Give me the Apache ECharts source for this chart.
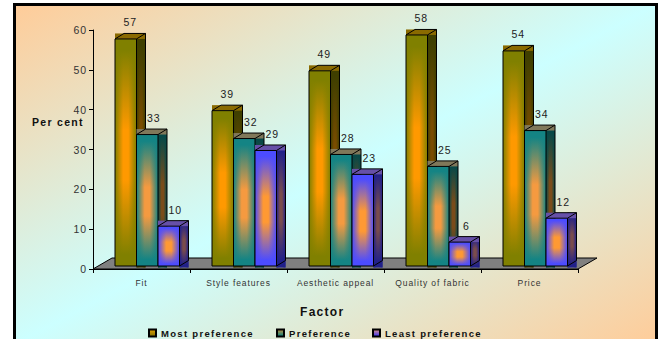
<!DOCTYPE html>
<html>
<head>
<meta charset="utf-8">
<style>
  html, body { margin: 0; padding: 0; background: #fff; }
  #chart { position: absolute; left: 0; top: 0; width: 659px; height: 339px; }
  /* Wide tracking on all chart lettering */
  #chart text { letter-spacing: 0.9px; }
  #chart text[style*="bold"] { letter-spacing: 1.3px; }
  #chart text[style*="bold 9.5px"] { letter-spacing: 1.45px; }
</style>
<script src="https://cdn.jsdelivr.net/npm/echarts@6/dist/echarts.min.js"></script>
</head>
<body>
<div id="chart"></div>
<script>
const categories = ['Fit', 'Style features', 'Aesthetic appeal', 'Quality of fabric', 'Price'];
const mostPreference = [57, 39, 49, 58, 54];
const preference = [33, 32, 28, 25, 34];
const leastPreference = [10, 29, 23, 6, 12];
const seriesNames = ['Most preference', 'Preference', 'Least preference'];
const yTicks = { min: 0, max: 60, interval: 10 };

const BAR_W = 21.5, DEPTH_X = 9, DEPTH_Y = 5.5, BASE_LIFT = 3, GROUP_SHIFT = -26.5;
const FONT = '"Liberation Sans", Arial, sans-serif';

const palettes = [
  { edge: '#808000', mid: '#ff9900', sideEdge: '#3f3f00', sideMid: '#7a4c00', top: '#8a6a00', legend: ['#e0a000', '#807000'], labelShift: 0 },
  { edge: '#148484', mid: '#f59a40', sideEdge: '#064848', sideMid: '#7a4c1a', top: '#80785a', legend: ['#c09040', '#008080'], labelShift: 2 },
  { edge: '#4c4cff', mid: '#ff9933', sideEdge: '#20208a', sideMid: '#7a4c4c', top: '#6650a8', legend: ['#e09080', '#3333ff'], labelShift: 2 }
];

const { LinearGradient } = echarts.graphic;

function vGrad(edge, mid) {
  return new LinearGradient(0, 0, 0, 1, [
    { offset: 0.05, color: edge }, { offset: 0.4, color: mid }, { offset: 0.62, color: mid }, { offset: 0.95, color: edge }
  ]);
}
function hFade(edge) {
  const clear = echarts.color.modifyAlpha(edge, 0);
  return new LinearGradient(0, 0, 1, 0, [
    { offset: 0, color: edge }, { offset: 0.38, color: clear }, { offset: 0.62, color: clear }, { offset: 1, color: edge }
  ]);
}

// One cuboid: front face, right side and top, each with a boxed gradient fill
function makeRenderItem(seriesIndex) {
  const pal = palettes[seriesIndex];
  return function (params, api) {
    const catIdx = api.value(0);
    const val = api.value(1);
    const topPt = api.coord([catIdx, val]);
    const basePt = api.coord([catIdx, 0]);
    const x0 = topPt[0] + GROUP_SHIFT + seriesIndex * BAR_W;
    const x1 = x0 + BAR_W;
    const yT = topPt[1] - BASE_LIFT;
    const yB = basePt[1] - BASE_LIFT;
    const bx = x1 + DEPTH_X;
    const byT = yT - DEPTH_Y;
    const line = { stroke: '#000', lineWidth: 1, fill: null };
    return {
      type: 'group',
      children: [
        // side block
        { type: 'rect', shape: { x: x1, y: byT, width: DEPTH_X, height: yB - byT + 1.5 },
          style: { fill: vGrad(pal.sideEdge, pal.sideMid) } },
        { type: 'rect', shape: { x: x1, y: byT, width: DEPTH_X, height: yB - byT + 1.5 },
          style: { fill: hFade(pal.sideEdge) } },
        // top block
        { type: 'rect', shape: { x: x0, y: byT, width: bx - x0, height: DEPTH_Y },
          style: { fill: pal.top } },
        // front face
        { type: 'rect', shape: { x: x0, y: yT, width: BAR_W, height: yB - yT },
          style: { fill: vGrad(pal.edge, pal.mid) } },
        { type: 'rect', shape: { x: x0, y: yT, width: BAR_W, height: yB - yT },
          style: { fill: hFade(pal.edge), stroke: '#000', lineWidth: 1 } },
        // wire edges
        { type: 'polyline', shape: { points: [[x0, yT], [x0 + DEPTH_X, byT], [bx, byT], [bx, yB - DEPTH_Y], [x1, yB]] }, style: line },
        { type: 'line', shape: { x1: x1, y1: yT, x2: bx, y2: byT }, style: line },
        // value above the cuboid
        { type: 'text', style: { text: String(val), x: (x0 + bx) / 2 + pal.labelShift, y: yT - 16.5, align: 'center', verticalAlign: 'middle',
            fill: '#222', font: '10.5px ' + FONT } }
      ]
    };
  };
}

function seriesFor(i, values) {
  return {
    name: seriesNames[i],
    type: 'custom',
    coordinateSystem: 'cartesian2d',
    clip: false,
    z: 3 + i,
    itemStyle: { color: new LinearGradient(0, 0, 0, 1, [
      { offset: 0, color: palettes[i].legend[0] }, { offset: 1, color: palettes[i].legend[1] }
    ]), borderColor: '#000', borderWidth: 1 },
    encode: { x: 0, y: 1 },
    data: values.map((v, idx) => [idx, v]),
    renderItem: makeRenderItem(i)
  };
}

// Grey floor under the bars, spanning the category axis
function floorSeries() {
  return {
    type: 'custom',
    coordinateSystem: 'cartesian2d',
    silent: true,
    clip: false,
    z: 1,
    legendHoverLink: false,
    data: [[0, categories.length - 1]],
    renderItem: function (params, api) {
      const r = params.coordSys;
      const y = r.y + r.height;
      return {
        type: 'polygon',
        shape: { points: [[r.x, y], [r.x + 19, y - 11], [r.x + r.width + 19, y - 11], [r.x + r.width, y]] },
        style: { fill: '#808080', stroke: '#000', lineWidth: 1 }
      };
    }
  };
}

function legendAt(name, left) {
  return {
    data: [name],
    left: left, top: 328,
    padding: 0,
    icon: 'rect',
    itemWidth: 7, itemHeight: 7, itemGap: 0,
    selectedMode: false,
    textStyle: { fontSize: 9.5, fontWeight: 'bold', color: '#111' }
  };
}

const chart = echarts.init(document.getElementById('chart'), null, { renderer: 'svg', width: 659, height: 339 });
chart.setOption({
  animation: false,
  backgroundColor: 'transparent',
  textStyle: { fontFamily: FONT },
  graphic: [{
    type: 'rect', z: -10, silent: true,
    shape: { x: 14.5, y: 4.5, width: 642, height: 340 },
    style: {
      stroke: '#000', lineWidth: 3,
      fill: new LinearGradient(0, 0, 1, 1, [
        { offset: 0, color: '#ffcc99' }, { offset: 0.5, color: '#ccffff' }, { offset: 1, color: '#ffcc99' }
      ])
    }
  }, {
    type: 'text', z: 10, silent: true, x: 32, y: 121.5,
    style: { text: 'Per cent', fill: '#111', font: 'bold 10.5px ' + FONT, verticalAlign: 'middle' }
  }, {
    type: 'text', z: 10, silent: true, x: 300, y: 311.5,
    style: { text: 'Factor', fill: '#111', font: 'bold 12px ' + FONT, verticalAlign: 'middle' }
  }],
  grid: { left: 93, right: 81, top: 30, bottom: 70 },
  legend: [
    legendAt(seriesNames[0], 148),
    legendAt(seriesNames[1], 276),
    legendAt(seriesNames[2], 372)
  ],
  xAxis: {
    type: 'category',
    data: categories,
    axisLine: { onZero: false, lineStyle: { color: '#000', width: 1 } },
    axisTick: { show: true, length: 4, alignWithLabel: false, lineStyle: { color: '#000' } },
    axisLabel: { fontSize: 8.5, color: '#333', margin: 9 },
    splitLine: { show: false }
  },
  yAxis: {
    type: 'value',
    min: yTicks.min, max: yTicks.max, interval: yTicks.interval,
    axisLine: { show: true, lineStyle: { color: '#000', width: 1 } },
    axisTick: { show: true, length: 4, lineStyle: { color: '#000' } },
    axisLabel: { fontSize: 10.5, color: '#333', margin: 6 },
    splitLine: { show: false }
  },
  series: [
    floorSeries(),
    seriesFor(0, mostPreference),
    seriesFor(1, preference),
    seriesFor(2, leastPreference)
  ]
});
</script>
</body>
</html>
